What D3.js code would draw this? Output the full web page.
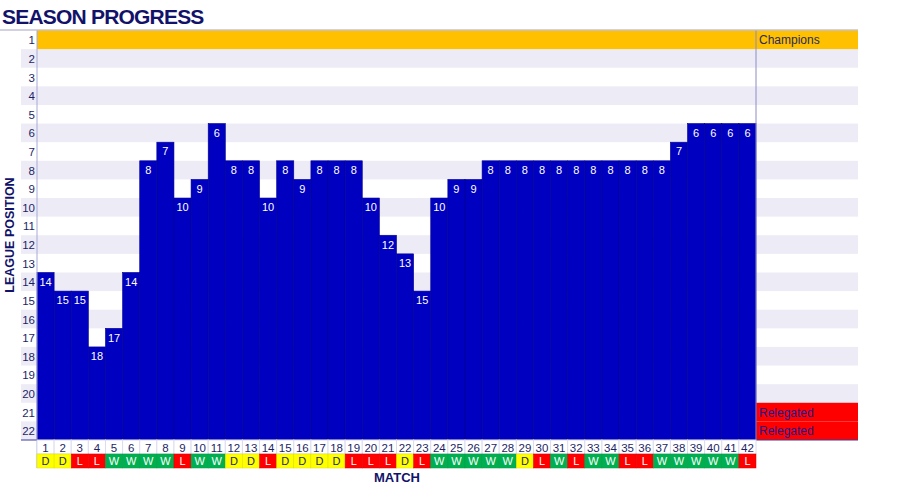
<!DOCTYPE html>
<html><head><meta charset="utf-8">
<script src="https://cdn.jsdelivr.net/npm/d3@7/dist/d3.min.js"></script>
<style>body{margin:0;background:#fff}svg{display:block}</style>
</head><body>
<svg id="c" width="900" height="487"></svg>
<script>
const matches = d3.range(1, 43);
const positions = [14,15,15,18,17,14,8,7,10,9,6,8,8,10,8,9,8,8,8,10,12,13,15,10,9,9,8,8,8,8,8,8,8,8,8,8,8,7,6,6,6,6];
const results = ["D","D","L","L","W","W","W","W","L","W","W","D","D","L","D","D","D","D","L","L","L","D","L","W","W","W","W","W","D","L","W","L","W","W","L","L","W","W","W","W","W","L"];
const rowLabels = d3.range(1, 23);
const zoneLabels = {1: "Champions", 21: "Relegated", 22: "Relegated"};
const title = "SEASON PROGRESS";
const yTitle = "LEAGUE POSITION";
const xTitle = "MATCH";

const svg = d3.select("#c");
const L = 37, R = 756, PR = 858, T = 30.5, B = 440, SL = 21;
const x = d3.scaleBand().domain(matches).range([L, R]);
const y = d3.scaleBand().domain(rowLabels).range([T, B]);
const navy = "#1d1f66";
const font = "'Liberation Sans', Arial, sans-serif";

// row stripes
rowLabels.forEach(r => {
  if (r % 2 === 0) {
    svg.append("rect").attr("x", SL).attr("y", y(r)).attr("width", PR - SL).attr("height", y.bandwidth()).attr("fill", "#edecf6");
  }
});
// champions row
svg.append("rect").attr("x", L).attr("y", y(1)).attr("width", PR - L).attr("height", y.bandwidth()).attr("fill", "#ffc000");
// relegation zone in side panel
[21, 22].forEach(r => svg.append("rect").attr("x", R).attr("y", y(r)).attr("width", PR - R).attr("height", y.bandwidth()).attr("fill", "#ff0000"));

// top line
svg.append("line").attr("x1", 0).attr("x2", PR).attr("y1", T - 0.5).attr("y2", T - 0.5).attr("stroke", "#a4a4c4").attr("stroke-width", 1);

// bars
svg.selectAll(".bar").data(matches).enter().append("rect")
  .attr("x", d => x(d)).attr("y", (d, i) => y(positions[i]))
  .attr("width", x.bandwidth()).attr("height", (d, i) => B - y(positions[i]))
  .attr("fill", "#0000c0").attr("stroke", "#000090").attr("stroke-width", 0.6);

// bar labels
svg.selectAll(".bl").data(matches).enter().append("text")
  .attr("x", d => x(d) + x.bandwidth() / 2).attr("y", (d, i) => y(positions[i]) + y.bandwidth() / 2 + 4)
  .attr("text-anchor", "middle").attr("fill", "#fff").attr("font-family", font).attr("font-size", 11)
  .text((d, i) => positions[i]);

// left axis line & divider
svg.append("line").attr("x1", L).attr("x2", L).attr("y1", T).attr("y2", 468).attr("stroke", "#a8a8d8").attr("stroke-width", 1);
svg.append("line").attr("x1", R).attr("x2", R).attr("y1", T).attr("y2", B).attr("stroke", "#8c8cc8").attr("stroke-width", 1);
// bottom line
svg.append("line").attr("x1", SL).attr("x2", PR).attr("y1", B).attr("y2", B).attr("stroke", "#3a3aa0").attr("stroke-width", 1);

// row labels
svg.selectAll(".rl").data(rowLabels).enter().append("text")
  .attr("x", 35).attr("y", d => y(d) + y.bandwidth() / 2 + 4.5)
  .attr("text-anchor", "end").attr("fill", navy).attr("font-family", font).attr("font-size", 11.5)
  .text(d => d);

// zone labels
Object.entries(zoneLabels).forEach(([r, t]) => {
  svg.append("text").attr("x", R + 3).attr("y", y(+r) + y.bandwidth() / 2 + 4.5)
    .attr("fill", +r === 1 ? "#2a2a5a" : "#1a1a90").attr("font-family", font).attr("font-size", 12).text(t);
});

// match number row
const NR = 440, NH = 14, RH = 14;
const resColor = {D: "#ffff00", L: "#ff0000", W: "#00b050"};
const resText = {D: navy, L: "#fff", W: "#fff"};
svg.selectAll(".nc").data(matches).enter().append("rect")
  .attr("x", d => x(d)).attr("y", NR).attr("width", x.bandwidth()).attr("height", NH)
  .attr("fill", "#fff").attr("stroke", "#dcdcf0").attr("stroke-width", 1);
svg.selectAll(".nt").data(matches).enter().append("text")
  .attr("x", d => x(d) + x.bandwidth() / 2).attr("y", NR + 11.5)
  .attr("text-anchor", "middle").attr("fill", navy).attr("font-family", font).attr("font-size", 11.5)
  .text(d => d);
svg.selectAll(".rc").data(matches).enter().append("rect")
  .attr("x", d => x(d)).attr("y", NR + NH).attr("width", x.bandwidth()).attr("height", RH)
  .attr("fill", (d, i) => resColor[results[i]]).attr("stroke", (d, i) => d3.color(resColor[results[i]]).darker(0.4)).attr("stroke-width", 0.5);
svg.selectAll(".rt").data(matches).enter().append("text")
  .attr("x", d => x(d) + x.bandwidth() / 2).attr("y", NR + NH + 11)
  .attr("text-anchor", "middle").attr("fill", (d, i) => resText[results[i]]).attr("font-family", font).attr("font-size", 11)
  .text((d, i) => results[i]);

// titles
svg.append("text").attr("x", 2).attr("y", 23.5).attr("fill", "#12126a").attr("font-family", font)
  .attr("font-weight", "bold").attr("font-size", 21).attr("letter-spacing", -0.8).text(title);
svg.append("text").attr("transform", "translate(14,235) rotate(-90)").attr("text-anchor", "middle")
  .attr("fill", "#12126a").attr("font-family", font).attr("font-weight", "bold").attr("font-size", 12.5).text(yTitle);
svg.append("text").attr("x", 397).attr("y", 482).attr("text-anchor", "middle")
  .attr("fill", "#12126a").attr("font-family", font).attr("font-weight", "bold").attr("font-size", 13).text(xTitle);
</script>
</body></html>
